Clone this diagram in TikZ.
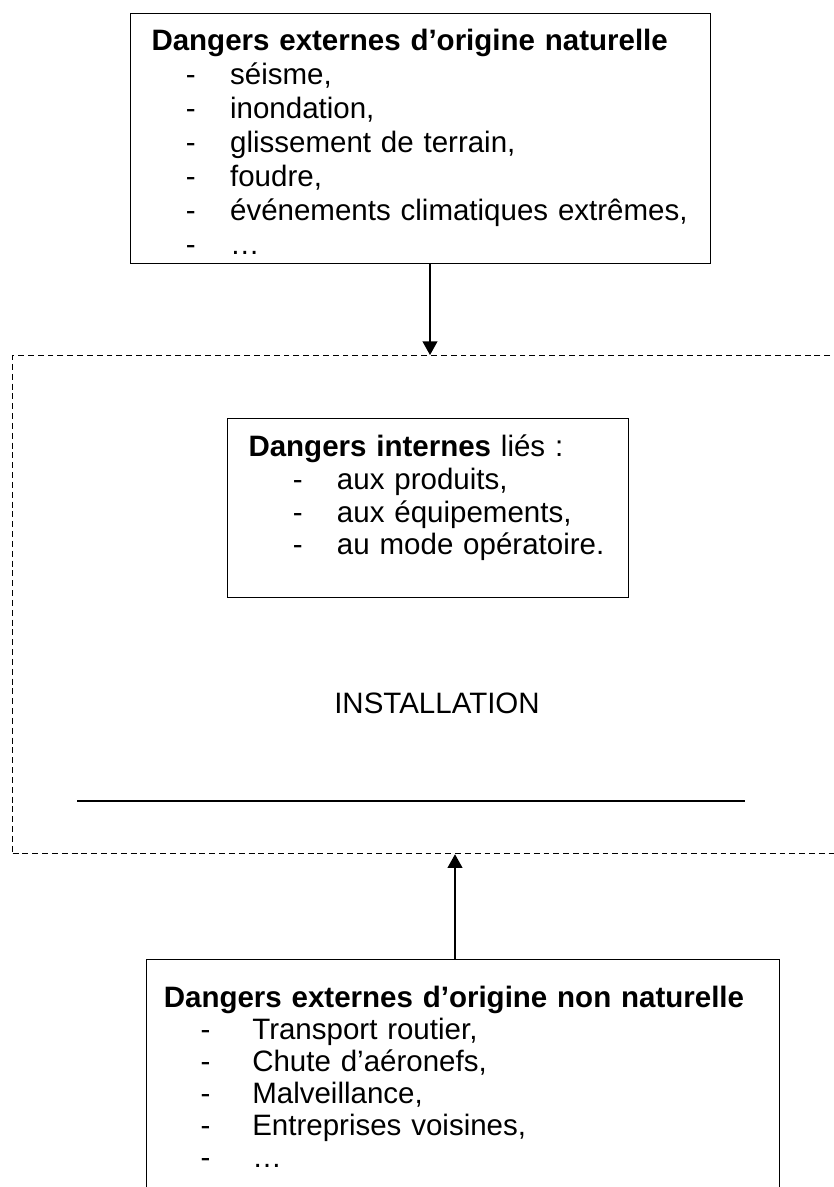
\documentclass[tikz,border=0pt]{standalone}
\usepackage{fontspec}
\setmainfont{Liberation Sans}
\usetikzlibrary{arrows.meta}
\newcommand{\tiret}[2]{\hspace*{#1}\makebox[#2][l]{-}}

\begin{document}
\begin{tikzpicture}[x=0.4068pt, y=-0.4068pt, font={\fontsize{12pt}{13.8pt}\selectfont},
  >={Triangle[length=5.5pt,width=6pt]},
  box/.style={draw, line width=0.5pt, anchor=north west, align=left, inner xsep=#1, inner ysep=0pt},
  zone/.style={draw, dash pattern=on 2.4pt off 1.6pt, line width=0.5pt, anchor=north west, inner sep=0pt}]
\useasboundingbox (0,0) rectangle (834,1187);
\node[box=8.5pt, text width=219pt, text height=15pt, text depth=86.6pt] (naturel) at (130,13) {\textbf{Dangers externes d’origine naturelle}\\
  \tiret{14pt}{18pt}séisme,\\
  \tiret{14pt}{18pt}inondation,\\
  \tiret{14pt}{18pt}glissement de terrain,\\
  \tiret{14pt}{18pt}foudre,\\
  \tiret{14pt}{18pt}événements climatiques extrêmes,\\
  \tiret{14pt}{18pt}…};
% installation
\node[zone, minimum width=339pt, minimum height=202.6pt] (installation) at (12,355) {};
\node[box=8.5pt, text width=146pt, text height=15.5pt, text depth=57.4pt,
  font={\fontsize{12pt}{13.3pt}\selectfont}] (internes) at (227,418) {\textbf{Dangers internes} liés :\\
  \tiret{18pt}{18pt}aux produits,\\
  \tiret{18pt}{18pt}aux équipements,\\
  \tiret{18pt}{18pt}au mode opératoire.};
\node (titre) at (437,703.5) {INSTALLATION};
\coordinate (sol-g) at (77,801);
\coordinate (sol-d) at (745,801);
\draw[line width=0.6pt] (sol-g) -- (sol-d);
\node[box=7pt, text width=243.5pt, text height=19.5pt, text depth=78.5pt,
  font={\fontsize{12pt}{13pt}\selectfont}] (nonnaturel) at (146,959) {\textbf{Dangers externes d’origine non naturelle}\\
  \tiret{15pt}{21pt}Transport routier,\\
  \tiret{15pt}{21pt}Chute d’aéronefs,\\
  \tiret{15pt}{21pt}Malveillance,\\
  \tiret{15pt}{21pt}Entreprises voisines,\\
  \tiret{15pt}{21pt}…};
% arrows
\coordinate (f1) at (430,0);
\coordinate (f2) at (455,0);
\draw[->, line width=0.5pt] (naturel.south -| f1) -- (installation.north -| f1);
\draw[->, line width=0.5pt] (nonnaturel.north -| f2) -- (installation.south -| f2);
\end{tikzpicture}
\end{document}
